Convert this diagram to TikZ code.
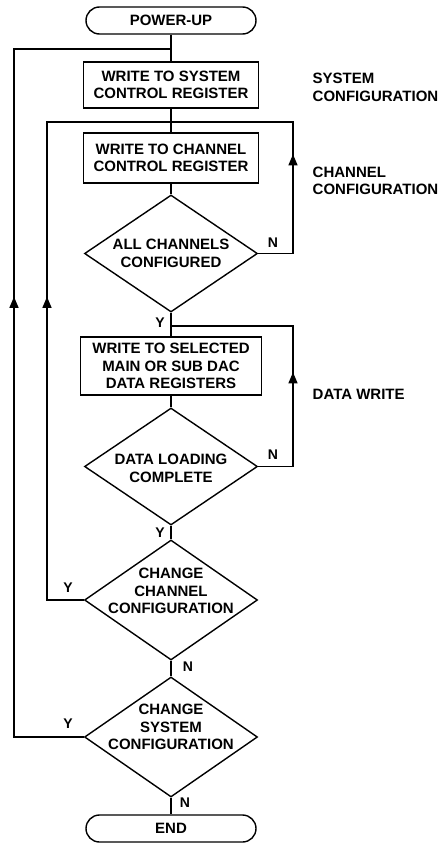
\documentclass[tikz,border=0pt]{standalone}
\usepackage{fontspec}
\setmainfont{Liberation Sans}
\usetikzlibrary{shapes.geometric,shapes.misc,arrows.meta,decorations.markings}
\begin{document}
\begin{tikzpicture}[x=1pt,y=1pt,
  font=\fontsize{15}{17.5}\selectfont\bfseries,
  line width=1.4pt,
  term/.style={rounded rectangle, draw, minimum width=170pt, minimum height=27pt, inner sep=0pt},
  proc/.style={rectangle, draw, minimum width=175pt, align=center, inner sep=0pt},
  dia/.style={diamond, draw, minimum width=173pt, inner sep=0pt},
  dtext/.style={align=center, inner sep=0pt},
  lbl/.style={inner sep=0pt, font=\fontsize{14}{16}\selectfont\bfseries},
  side/.style={align=left, anchor=west, inner sep=0pt},
  uptip/.style={postaction={decorate}, decoration={markings, mark=at position #1 with {\arrow{Triangle[length=11pt,width=9pt]}}}},
]
\useasboundingbox (0,0) rectangle (444,-843);

% main column
\node[term] (pu) at (171,-20.5) {POWER-UP};
\node[proc, minimum height=46pt] (b1) at (171,-85) {WRITE TO SYSTEM\\CONTROL REGISTER};
\node[proc, minimum height=50pt] (b2) at (171,-158) {WRITE TO CHANNEL\\CONTROL REGISTER};
\node[dia, minimum height=117pt, label={[dtext]center:ALL CHANNELS\\CONFIGURED}] (d1) at (171,-253.5) {};
\node[proc, minimum width=181pt, minimum height=58pt] (b3) at (171,-366) {WRITE TO SELECTED\\MAIN OR SUB DAC\\DATA REGISTERS};
\node[dia, minimum height=117pt, label={[dtext, yshift=-2pt]center:DATA LOADING\\COMPLETE}] (d2) at (171,-466.5) {};
\node[dia, minimum height=120pt, label={[dtext, yshift=9pt]center:CHANGE\\CHANNEL\\CONFIGURATION}] (d3) at (171,-600) {};
\node[dia, minimum height=120pt, label={[dtext, yshift=10pt]center:CHANGE\\SYSTEM\\CONFIGURATION}] (d4) at (171,-737) {};
\node[term] (en) at (171,-828.5) {END};

% junction points
\coordinate (j1) at (171,-49);
\coordinate (j1l) at (14,-49);
\coordinate (j2) at (171,-122);
\coordinate (j2l) at (47,-122);
\coordinate (j2r) at (293,-122);
\coordinate (j3) at (171,-326);
\coordinate (j3r) at (293,-326);

% main flow
\draw (pu.south) -- (b1.north);
\draw (b1.south) -- (b2.north);
\draw (b2.south) -- (d1.north);
\draw (d1.south) -- (b3.north);
\draw (b3.south) -- (d2.north);
\draw (d2.south) -- (d3.north);
\draw (d3.south) -- (d4.north);
\draw (d4.south) -- (en.north);

% loops
\draw[uptip=134pt] (d1.east) -| (j2r) -- (j2);
\draw[uptip=129pt] (d2.east) -| (j3r) -- (j3);
\draw[uptip=340pt] (d3.west) -| (j2l) -- (j2);
\draw[uptip=510pt] (d4.west) -| (j1l) -- (j1);

% branch labels
\node[lbl] (n1) at (273,-243) {N};
\node[lbl] (y1) at (160,-323) {Y};
\node[lbl] (n2) at (273,-455) {N};
\node[lbl] (y2) at (160,-533) {Y};
\node[lbl] (y3) at (68,-588) {Y};
\node[lbl] (n3) at (188,-667) {N};
\node[lbl] (y4) at (68,-724) {Y};
\node[lbl] (n4) at (185,-803) {N};

% side labels
\node[side] (s1) at (312,-87.5) {SYSTEM\\CONFIGURATION};
\node[side] (s2) at (312,-181) {CHANNEL\\CONFIGURATION};
\node[side] (s3) at (312,-394.5) {DATA WRITE};
\end{tikzpicture}
\end{document}
